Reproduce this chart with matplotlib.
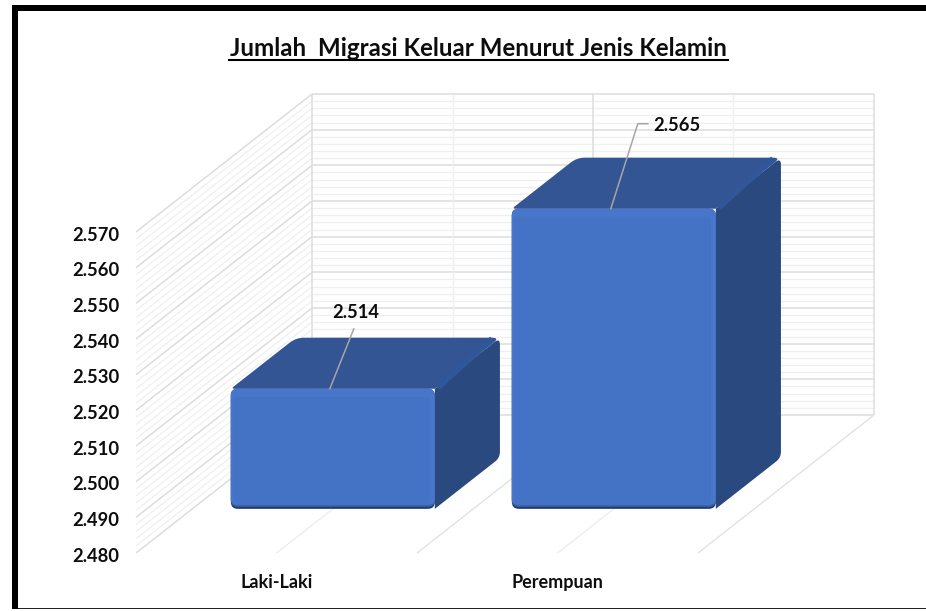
import matplotlib
matplotlib.use("Agg")
import matplotlib.pyplot as plt
from matplotlib.patches import PathPatch, Rectangle
from matplotlib.path import Path
from matplotlib.ticker import FixedLocator, FuncFormatter
from matplotlib.lines import Line2D
from matplotlib.transforms import ScaledTranslation

# ---- data ----
categories = ["Laki-Laki", "Perempuan"]
values = [2514, 2565]
value_ticks = [2480, 2490, 2500, 2510, 2520, 2530, 2540, 2550, 2560, 2570]
title = "Jumlah  Migrasi Keluar Menurut Jenis Kelamin"

# ---- styling / geometry ----
W, H = 926, 611
FONT = "Lato"
AX_L, AX_R, AX_T, AX_B = 136, 698, 232, 553
VMIN, VMAX = value_ticks[0], value_ticks[-1]
PXX = (AX_R - AX_L) / len(categories)
PXY = (AX_B - AX_T) / (VMAX - VMIN)
DX = 176 / PXX           # shift of the back wall, in category units
DY = 138 / PXY           # shift of the back wall, in value units
BAR_W = 204 / PXX
D_FRONT, D_BACK = 0.32, 0.69
BAR_SCALE = 0.99

plt.rcParams["font.family"] = [FONT, "DejaVu Sans"]
fig = plt.figure(figsize=(W / 100, H / 100), dpi=100, facecolor="white")
ax = fig.add_axes([AX_L / W, (H - AX_B) / H, (AX_R - AX_L) / W, (AX_B - AX_T) / H])
ax.set_xlim(0, len(categories))
ax.set_ylim(VMIN, VMAX)
ax.patch.set_visible(False)
for s in ax.spines.values():
    s.set_visible(False)


def proj(x, v, d):
    return x + d * DX, v + d * DY


def line(p, q, color, lw, z=1, **kw):
    ax.plot([p[0], q[0]], [p[1], q[1]], color=color, lw=lw, zorder=z,
            clip_on=False, solid_capstyle=kw.pop("cap", "butt"), **kw)


def rounded(verts, radii, color, z):
    """Closed polygon with rounded corners; radii in px, verts in data units."""
    pts = [(x * PXX, v * PXY) for x, v in verts]
    n = len(pts)
    out, codes = [], []
    for i in range(n):
        p0, p1, p2 = pts[i - 1], pts[i], pts[(i + 1) % n]
        r = radii[i]

        def toward(a, b):
            dist = ((b[0] - a[0]) ** 2 + (b[1] - a[1]) ** 2) ** 0.5
            t = min(r / dist, 0.5) if dist else 0
            return a[0] + (b[0] - a[0]) * t, a[1] + (b[1] - a[1]) * t

        a, b = toward(p1, p0), toward(p1, p2)
        out += [a, p1, b]
        codes += [Path.MOVETO if i == 0 else Path.LINETO, Path.CURVE3, Path.CURVE3]
    out.append(out[0])
    codes.append(Path.CLOSEPOLY)
    data = [(x / PXX, y / PXY) for x, y in out]
    ax.add_patch(PathPatch(Path(data, codes), facecolor=color, edgecolor="none",
                           zorder=z, clip_on=False))


# ---- grid: back wall, left wall, floor ----
MAJ, MIN_ = "#DDDDDD", "#EFEFEF"
for v in range(VMIN, VMAX + 1, 2):
    major = v in value_ticks
    c, lw = (MAJ, 1.1) if major else (MIN_, 0.9)
    z = 2 if major else 1
    line(proj(0, v, 0), proj(0, v, 1), c, lw, z)
    line(proj(0, v, 1), proj(len(categories), v, 1), c, lw, z)
xs = [0, 0.5, 1, 1.5, 2]
for x in xs:
    major = x == int(x)
    c, lw = (MAJ, 1.1) if major else (MIN_, 1.0)
    line(proj(x, VMIN, 1), proj(x, VMAX, 1), c, lw, 2)
    if x > 0:
        line(proj(x, VMIN, 0), proj(x, VMIN, 1), "#E2E2E2" if major else "#EDEDED", 1.0, 2)


# ---- bars ----
FRONT, TOP, SIDE = "#4472C4", "#335593", "#2A4A7F"
BEVEL = "#4876CB"
for i, val in enumerate(values):
    c = i + 0.5
    x0, x1 = c - BAR_W / 2, c + BAR_W / 2
    vt = VMIN + (val - VMIN) * BAR_SCALE
    vb = VMIN
    fl, fr = proj(x0, vt, D_FRONT), proj(x1, vt, D_FRONT)
    bl, br = proj(x0, vt, D_BACK), proj(x1, vt, D_BACK)
    frb = proj(x1, vb, D_FRONT)
    brb = proj(x1, vb, D_BACK)
    flb = proj(x0, vb, D_FRONT)
    # side and top faces
    rounded([fr, br, brb, frb], [0, 7, 6, 0], SIDE, 5)
    rounded([fl, bl, br, fr], [4, 8, 8, 0], TOP, 6)
    # lighter bevel along the top-right edge
    line((fr[0] + 3 / PXX, fr[1] + 1 / PXY), (br[0] - 8 / PXX, br[1] - 1 / PXY), "#30579A", 4.0, 6.5)
    # front face, layered for the bevelled rim
    rounded([flb, (flb[0], fl[1]), fr, frb], [7, 7, 7, 7], "#1F3B68", 7)
    rounded([(flb[0], flb[1] + 2 / PXY), (flb[0], fl[1]), fr, (frb[0], frb[1] + 2 / PXY)],
            [7, 7, 7, 7], "#3A62AA", 7.5)
    rounded([(flb[0], flb[1] + 4 / PXY), (flb[0], fl[1]), fr, (frb[0], frb[1] + 4 / PXY)],
            [6, 7, 7, 6], BEVEL, 8)
    rounded([(flb[0] + 2 / PXX, flb[1] + 5 / PXY), (flb[0] + 2 / PXX, fl[1] - 8 / PXY),
             (fr[0] - 5 / PXX, fr[1] - 8 / PXY), (frb[0] - 5 / PXX, frb[1] + 5 / PXY)],
            [3, 3, 3, 3], FRONT, 9)

    # data label with leader line
    tx, tv = proj(c, vt, D_FRONT)
    tx -= 3 / PXX
    if i == 0:
        leader = [(tx, tv), (tx + 24 / PXX, tv + 60 / PXY)]
        lab = (tx + 26 / PXX, tv + 76.5 / PXY, "center")
    else:
        leader = [(tx, tv), (tx + 27 / PXX, tv + 85 / PXY), (tx + 37 / PXX, tv + 85 / PXY)]
        lab = (tx + 42 / PXX, tv + 83 / PXY, "left")
    ax.plot(*zip(*leader), color="#A6A6A6", lw=1.1, zorder=10, clip_on=False)
    ax.text(lab[0], lab[1], f"{val:,}".replace(",", "."), ha=lab[2], va="center",
            fontsize=13.2, fontweight="bold", color="#0D0D0D", zorder=11, clip_on=False)

# ---- axes / ticks ----
ax.yaxis.set_major_locator(FixedLocator(value_ticks))
ax.yaxis.set_major_formatter(FuncFormatter(lambda v, _: f"{int(v):,}".replace(",", ".")))
ax.set_xticks([i + 0.5 for i in range(len(categories))], categories)
ax.tick_params(axis="y", length=0, pad=12, labelsize=13.2, labelcolor="#0D0D0D")
ax.tick_params(axis="x", length=0, pad=15, labelsize=13, labelcolor="#0D0D0D")
for t in ax.get_xticklabels() + ax.get_yticklabels():
    t.set_fontweight("bold")
down = ScaledTranslation(0, -1.2 / 72, fig.dpi_scale_trans)
for t in ax.get_yticklabels():
    t.set_transform(t.get_transform() + down)

# ---- title with underline ----
fig.text(478.5 / W, 1 - 48 / H, title, ha="center", va="center", fontsize=17.4,
         fontweight="bold", color="#0D0D0D")
fig.add_artist(Line2D([229 / W, 728 / W], [1 - 59.5 / H] * 2, color="black", lw=1.5))

# ---- frame ----
def frame(x, y, w, h, color="black"):
    fig.add_artist(Rectangle((x / W, 1 - (y + h) / H), w / W, h / H, transform=fig.transFigure,
                             facecolor=color, edgecolor="none"))

frame(12, 5, 914, 6)
frame(12, 5, 6, 604)
frame(18, 607.5, 908, 1.6, "#222222")

fig.savefig("out.png", dpi=100, facecolor="white")
